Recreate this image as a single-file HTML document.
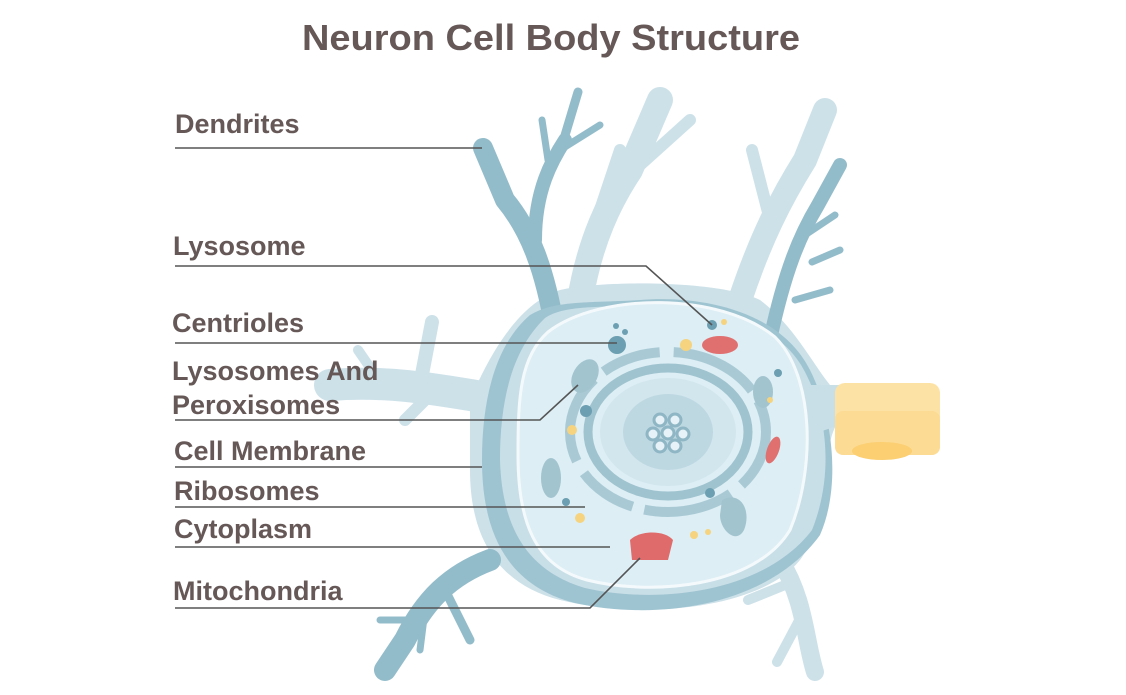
<!DOCTYPE html>
<html><head><meta charset="utf-8"><style>
html,body{margin:0;padding:0;background:#fff;}
svg{display:block}
text{font-family:"Liberation Sans",sans-serif;font-weight:bold;fill:#655857;}
</style></head><body>
<svg width="1126" height="695" viewBox="0 0 1126 695" xmlns="http://www.w3.org/2000/svg">
<text x="551" y="50" font-size="36" text-anchor="middle" textLength="498" lengthAdjust="spacingAndGlyphs">Neuron Cell Body Structure</text>

<path d="M470 400 C500 330 530 300 560 290 C600 280 720 280 760 300 C800 330 820 380 840 395 L840 420 C820 440 830 520 800 560 C760 610 640 620 560 600 C500 585 470 540 470 470 Z" fill="#cde1e9"/>
<g fill="none" stroke="#cde1e9" stroke-linecap="round" stroke-linejoin="round">
<path d="M580 300 C590 240 610 200 630 170 L660 100" stroke-width="26"/>
<path d="M640 165 L690 120" stroke-width="12"/>
<path d="M600 210 L620 150" stroke-width="12"/>
<path d="M740 300 C760 240 780 200 805 160 L825 110" stroke-width="24"/>
<path d="M770 220 L752 150" stroke-width="12"/>
<path d="M500 400 C440 390 390 380 330 385" stroke-width="32"/>
<path d="M420 385 L432 322" stroke-width="14"/>
<path d="M380 382 L358 350" stroke-width="10"/>
<path d="M430 395 L405 420" stroke-width="12"/>
<path d="M780 560 C805 600 805 640 815 672" stroke-width="18"/>
<path d="M802 615 L777 662" stroke-width="10"/>
<path d="M785 585 L748 600" stroke-width="10"/>
</g>
<g fill="none" stroke="#93bccb" stroke-linecap="round" stroke-linejoin="round">
<path d="M555 330 C545 270 530 230 505 200 L483 148" stroke-width="20"/>
<path d="M535 240 C535 190 552 160 565 140" stroke-width="14"/>
<path d="M548 160 L542 120" stroke-width="7"/>
<path d="M563 142 L578 92" stroke-width="9"/>
<path d="M560 150 L600 125" stroke-width="7"/>
<path d="M770 340 C785 270 800 235 818 205 L840 165" stroke-width="14"/>
<path d="M805 235 L835 215" stroke-width="7"/>
<path d="M812 262 L840 250" stroke-width="7"/>
<path d="M795 300 L830 290" stroke-width="7"/>
<path d="M490 560 C450 575 425 600 405 640 L385 670" stroke-width="22"/>
<path d="M445 590 L470 640" stroke-width="9"/>
<path d="M425 610 L420 650" stroke-width="7"/>
<path d="M415 620 L380 620" stroke-width="7"/>
</g>
<!-- body outer dark -->
<path d="M530 315 C495 345 482 400 482 460 C482 530 505 585 575 603 C660 622 770 605 820 535 C840 490 835 420 810 370 C780 310 700 295 640 300 C590 303 555 300 530 315 Z" fill="#9fc4d1"/>
<path d="M545 318 C512 350 500 400 500 460 C502 525 525 570 585 588 C660 605 765 592 812 530 C832 480 830 420 805 372 C778 318 700 302 640 305 C595 308 565 305 545 318 Z" fill="#c9dfe8"/>
<!-- membrane -->
<path d="M548 332 C600 292 720 292 775 337 C815 377 815 470 790 530 C755 588 650 596 587 580 C534 566 518 520 518 455 C518 397 520 357 548 332 Z" fill="#ddeef5" stroke="#f4fafc" stroke-width="3"/>
<ellipse cx="668" cy="432" rx="98" ry="80" fill="none" stroke="#a9cad5" stroke-width="10" stroke-dasharray="60 14 90 12"/>
<ellipse cx="668" cy="432" rx="80" ry="64" fill="none" stroke="#9fc3cf" stroke-width="9"/>
<ellipse cx="668" cy="432" rx="68" ry="54" fill="#d2e6ee"/>
<ellipse cx="668" cy="432" rx="45" ry="38" fill="#bed8e2"/>
<g fill="#e6f2f7" stroke="#8fb6c4" stroke-width="3">
<circle cx="660" cy="420" r="6"/><circle cx="675" cy="420" r="6"/><circle cx="653" cy="434" r="6"/><circle cx="668" cy="433" r="6"/><circle cx="683" cy="434" r="6"/><circle cx="660" cy="446" r="6"/><circle cx="675" cy="446" r="6"/>
</g>
<g fill="#a2c4cf">
<ellipse cx="585" cy="376" rx="12" ry="18" transform="rotate(30 585 376)"/>
<ellipse cx="763" cy="392" rx="10" ry="16"/>
<ellipse cx="551" cy="478" rx="10" ry="20"/>
<path d="M722 500 C740 490 752 510 744 530 C736 545 720 530 720 515 Z"/>
</g>
<g fill="#6b9fb1">
<circle cx="617" cy="345" r="9"/>
<circle cx="712" cy="325" r="5"/>
<circle cx="586" cy="411" r="6"/>
<circle cx="710" cy="493" r="5"/>
<circle cx="566" cy="502" r="4"/>
<circle cx="778" cy="373" r="4"/>
<circle cx="616" cy="326" r="3"/><circle cx="625" cy="332" r="3"/>
</g>
<g fill="#f6d37e">
<circle cx="686" cy="345" r="6"/><circle cx="572" cy="430" r="5"/><circle cx="580" cy="518" r="5"/><circle cx="694" cy="535" r="4"/><circle cx="708" cy="532" r="3"/><circle cx="770" cy="400" r="3"/><circle cx="724" cy="322" r="3"/>
</g>
<ellipse cx="720" cy="345" rx="18" ry="9" fill="#e07070"/>
<ellipse cx="773" cy="450" rx="6" ry="14" fill="#e07070" transform="rotate(20 773 450)"/>
<path d="M630 540 C640 530 665 530 673 540 L668 560 L632 560 Z" fill="#e06b6b"/>
<path d="M810 385 L840 385 L840 425 L810 435 Z" fill="#c9dfe8"/>
<rect x="835" y="383" width="105" height="72" rx="10" fill="#fde2a6"/>
<rect x="835" y="411" width="105" height="44" rx="8" fill="#fcdb94"/>
<ellipse cx="882" cy="451" rx="30" ry="9" fill="#fbcf72"/>

<g fill="none" stroke="#555" stroke-width="1.6">
<path d="M175 148 H482"/>
<path d="M175 266 H646 L712 325"/>
<path d="M175 343 H617"/>
<path d="M175 420 H540 L578 385"/>
<path d="M175 467 H482"/>
<path d="M175 507 H585"/>
<path d="M175 547 H610"/>
<path d="M175 608 H590 L640 558"/>
</g>
<g font-size="27">
<text x="175" y="133">Dendrites</text>
<text x="173" y="255">Lysosome</text>
<text x="172" y="332">Centrioles</text>
<text x="172" y="380">Lysosomes And</text>
<text x="172" y="414">Peroxisomes</text>
<text x="174" y="460">Cell Membrane</text>
<text x="174" y="500">Ribosomes</text>
<text x="174" y="538">Cytoplasm</text>
<text x="173" y="600">Mitochondria</text>
</g>
</svg>
</body></html>
